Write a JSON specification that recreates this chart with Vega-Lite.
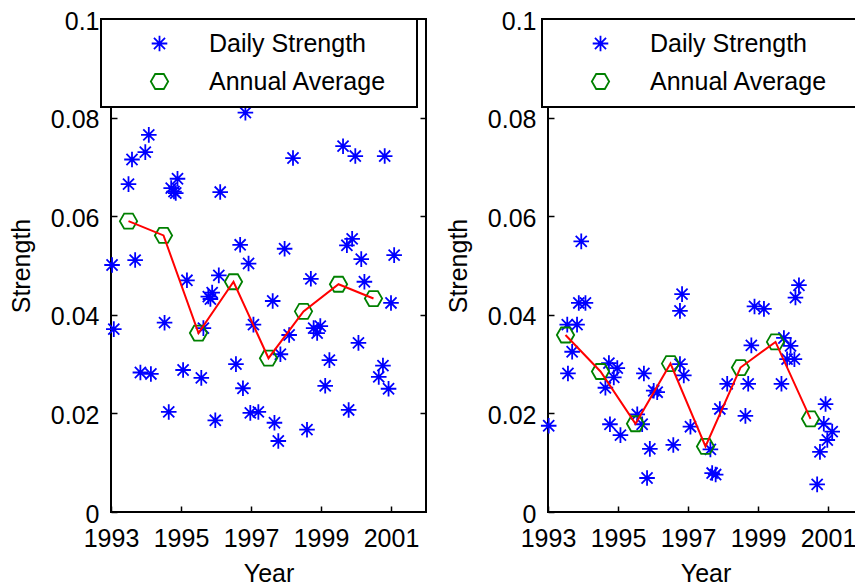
{
  "$schema": "https://vega.github.io/schema/vega-lite/v6.json",
  "background": "white",
  "padding": {"left": 8, "top": 8, "right": 0, "bottom": 0},
  "config": {
    "font": "Liberation Sans",
    "view": {"stroke": "black", "strokeWidth": 2},
    "axis": {"domain": false, "grid": false, "labelFont": "Liberation Sans", "labelFontSize": 25, "labelColor": "black", "titleFont": "Liberation Sans", "titleFontSize": 25, "titleFontWeight": "normal", "titleColor": "black", "tickColor": "black", "tickSize": -6, "tickWidth": 1.5},
    "legend": {"orient": "none", "legendY": 0, "padding": 12, "strokeColor": "black", "fillColor": "white", "strokeWidth": 2, "symbolOffset": 34, "labelOffset": 37, "rowPadding": 12, "labelFont": "Liberation Sans", "labelFontSize": 25, "labelColor": "black", "labelLimit": 400, "symbolSize": 300, "symbolStrokeWidth": 1.8, "symbolFillColor": "transparent"},
    "concat": {"spacing": 17}
  },
  "datasets": {
    "d": [
      {"p":"L","s":"Daily Strength","year":1993.03,"v":0.0501},
      {"p":"L","s":"Daily Strength","year":1993.08,"v":0.0371},
      {"p":"L","s":"Daily Strength","year":1993.50,"v":0.0665},
      {"p":"L","s":"Daily Strength","year":1993.60,"v":0.0715},
      {"p":"L","s":"Daily Strength","year":1993.69,"v":0.0511},
      {"p":"L","s":"Daily Strength","year":1993.84,"v":0.0283},
      {"p":"L","s":"Daily Strength","year":1993.98,"v":0.0730},
      {"p":"L","s":"Daily Strength","year":1994.08,"v":0.0765},
      {"p":"L","s":"Daily Strength","year":1994.14,"v":0.0280},
      {"p":"L","s":"Daily Strength","year":1994.53,"v":0.0384},
      {"p":"L","s":"Daily Strength","year":1994.65,"v":0.0203},
      {"p":"L","s":"Daily Strength","year":1994.72,"v":0.0657},
      {"p":"L","s":"Daily Strength","year":1994.80,"v":0.0650},
      {"p":"L","s":"Daily Strength","year":1994.85,"v":0.0647},
      {"p":"L","s":"Daily Strength","year":1994.90,"v":0.0676},
      {"p":"L","s":"Daily Strength","year":1995.06,"v":0.0288},
      {"p":"L","s":"Daily Strength","year":1995.17,"v":0.0470},
      {"p":"L","s":"Daily Strength","year":1995.58,"v":0.0272},
      {"p":"L","s":"Daily Strength","year":1995.64,"v":0.0373},
      {"p":"L","s":"Daily Strength","year":1995.78,"v":0.0437},
      {"p":"L","s":"Daily Strength","year":1995.84,"v":0.0432},
      {"p":"L","s":"Daily Strength","year":1995.89,"v":0.0445},
      {"p":"L","s":"Daily Strength","year":1995.98,"v":0.0186},
      {"p":"L","s":"Daily Strength","year":1996.08,"v":0.0480},
      {"p":"L","s":"Daily Strength","year":1996.12,"v":0.0649},
      {"p":"L","s":"Daily Strength","year":1996.57,"v":0.0300},
      {"p":"L","s":"Daily Strength","year":1996.69,"v":0.0542},
      {"p":"L","s":"Daily Strength","year":1996.77,"v":0.0251},
      {"p":"L","s":"Daily Strength","year":1996.84,"v":0.0810},
      {"p":"L","s":"Daily Strength","year":1996.93,"v":0.0504},
      {"p":"L","s":"Daily Strength","year":1996.98,"v":0.0201},
      {"p":"L","s":"Daily Strength","year":1997.07,"v":0.0380},
      {"p":"L","s":"Daily Strength","year":1997.21,"v":0.0203},
      {"p":"L","s":"Daily Strength","year":1997.62,"v":0.0428},
      {"p":"L","s":"Daily Strength","year":1997.67,"v":0.0181},
      {"p":"L","s":"Daily Strength","year":1997.78,"v":0.0144},
      {"p":"L","s":"Daily Strength","year":1997.84,"v":0.0320},
      {"p":"L","s":"Daily Strength","year":1997.96,"v":0.0534},
      {"p":"L","s":"Daily Strength","year":1998.09,"v":0.0359},
      {"p":"L","s":"Daily Strength","year":1998.20,"v":0.0718},
      {"p":"L","s":"Daily Strength","year":1998.60,"v":0.0167},
      {"p":"L","s":"Daily Strength","year":1998.71,"v":0.0473},
      {"p":"L","s":"Daily Strength","year":1998.79,"v":0.0373},
      {"p":"L","s":"Daily Strength","year":1998.89,"v":0.0363},
      {"p":"L","s":"Daily Strength","year":1998.98,"v":0.0377},
      {"p":"L","s":"Daily Strength","year":1999.12,"v":0.0256},
      {"p":"L","s":"Daily Strength","year":1999.24,"v":0.0308},
      {"p":"L","s":"Daily Strength","year":1999.63,"v":0.0742},
      {"p":"L","s":"Daily Strength","year":1999.74,"v":0.0541},
      {"p":"L","s":"Daily Strength","year":1999.79,"v":0.0207},
      {"p":"L","s":"Daily Strength","year":1999.89,"v":0.0554},
      {"p":"L","s":"Daily Strength","year":1999.98,"v":0.0722},
      {"p":"L","s":"Daily Strength","year":2000.07,"v":0.0343},
      {"p":"L","s":"Daily Strength","year":2000.15,"v":0.0513},
      {"p":"L","s":"Daily Strength","year":2000.24,"v":0.0467},
      {"p":"L","s":"Daily Strength","year":2000.65,"v":0.0274},
      {"p":"L","s":"Daily Strength","year":2000.77,"v":0.0297},
      {"p":"L","s":"Daily Strength","year":2000.82,"v":0.0722},
      {"p":"L","s":"Daily Strength","year":2000.93,"v":0.0250},
      {"p":"L","s":"Daily Strength","year":2001.00,"v":0.0424},
      {"p":"L","s":"Daily Strength","year":2001.09,"v":0.0521},
      {"p":"L","s":"Annual Average","year":1993.5,"v":0.0590},
      {"p":"L","s":"Annual Average","year":1994.5,"v":0.0561},
      {"p":"L","s":"Annual Average","year":1995.5,"v":0.0363},
      {"p":"L","s":"Annual Average","year":1996.5,"v":0.0467},
      {"p":"L","s":"Annual Average","year":1997.5,"v":0.0312},
      {"p":"L","s":"Annual Average","year":1998.5,"v":0.0407},
      {"p":"L","s":"Annual Average","year":1999.5,"v":0.0462},
      {"p":"L","s":"Annual Average","year":2000.5,"v":0.0433},
      {"p":"R","s":"Daily Strength","year":1993.02,"v":0.0175},
      {"p":"R","s":"Daily Strength","year":1993.55,"v":0.0380},
      {"p":"R","s":"Daily Strength","year":1993.57,"v":0.0281},
      {"p":"R","s":"Daily Strength","year":1993.69,"v":0.0325},
      {"p":"R","s":"Daily Strength","year":1993.83,"v":0.0380},
      {"p":"R","s":"Daily Strength","year":1993.88,"v":0.0424},
      {"p":"R","s":"Daily Strength","year":1993.95,"v":0.0549},
      {"p":"R","s":"Daily Strength","year":1994.07,"v":0.0424},
      {"p":"R","s":"Daily Strength","year":1994.64,"v":0.0252},
      {"p":"R","s":"Daily Strength","year":1994.74,"v":0.0302},
      {"p":"R","s":"Daily Strength","year":1994.77,"v":0.0178},
      {"p":"R","s":"Daily Strength","year":1994.88,"v":0.0273},
      {"p":"R","s":"Daily Strength","year":1994.98,"v":0.0292},
      {"p":"R","s":"Daily Strength","year":1995.07,"v":0.0156},
      {"p":"R","s":"Daily Strength","year":1995.55,"v":0.0198},
      {"p":"R","s":"Daily Strength","year":1995.69,"v":0.0178},
      {"p":"R","s":"Daily Strength","year":1995.74,"v":0.0281},
      {"p":"R","s":"Daily Strength","year":1995.83,"v":0.0069},
      {"p":"R","s":"Daily Strength","year":1995.91,"v":0.0128},
      {"p":"R","s":"Daily Strength","year":1996.02,"v":0.0246},
      {"p":"R","s":"Daily Strength","year":1996.12,"v":0.0243},
      {"p":"R","s":"Daily Strength","year":1996.58,"v":0.0136},
      {"p":"R","s":"Daily Strength","year":1996.77,"v":0.0300},
      {"p":"R","s":"Daily Strength","year":1996.77,"v":0.0408},
      {"p":"R","s":"Daily Strength","year":1996.83,"v":0.0442},
      {"p":"R","s":"Daily Strength","year":1996.88,"v":0.0277},
      {"p":"R","s":"Daily Strength","year":1997.07,"v":0.0173},
      {"p":"R","s":"Daily Strength","year":1997.64,"v":0.0127},
      {"p":"R","s":"Daily Strength","year":1997.69,"v":0.0079},
      {"p":"R","s":"Daily Strength","year":1997.79,"v":0.0076},
      {"p":"R","s":"Daily Strength","year":1997.91,"v":0.0209},
      {"p":"R","s":"Daily Strength","year":1998.12,"v":0.0260},
      {"p":"R","s":"Daily Strength","year":1998.64,"v":0.0195},
      {"p":"R","s":"Daily Strength","year":1998.72,"v":0.0260},
      {"p":"R","s":"Daily Strength","year":1998.81,"v":0.0338},
      {"p":"R","s":"Daily Strength","year":1998.90,"v":0.0417},
      {"p":"R","s":"Daily Strength","year":1999.17,"v":0.0412},
      {"p":"R","s":"Daily Strength","year":1999.67,"v":0.0260},
      {"p":"R","s":"Daily Strength","year":1999.74,"v":0.0353},
      {"p":"R","s":"Daily Strength","year":1999.83,"v":0.0310},
      {"p":"R","s":"Daily Strength","year":1999.93,"v":0.0337},
      {"p":"R","s":"Daily Strength","year":2000.04,"v":0.0310},
      {"p":"R","s":"Daily Strength","year":2000.07,"v":0.0435},
      {"p":"R","s":"Daily Strength","year":2000.17,"v":0.0460},
      {"p":"R","s":"Daily Strength","year":2000.69,"v":0.0056},
      {"p":"R","s":"Daily Strength","year":2000.77,"v":0.0122},
      {"p":"R","s":"Daily Strength","year":2000.88,"v":0.0179},
      {"p":"R","s":"Daily Strength","year":2000.93,"v":0.0219},
      {"p":"R","s":"Daily Strength","year":2000.98,"v":0.0146},
      {"p":"R","s":"Daily Strength","year":2001.12,"v":0.0163},
      {"p":"R","s":"Annual Average","year":1993.5,"v":0.0359},
      {"p":"R","s":"Annual Average","year":1994.5,"v":0.0285},
      {"p":"R","s":"Annual Average","year":1995.5,"v":0.0179},
      {"p":"R","s":"Annual Average","year":1996.5,"v":0.0301},
      {"p":"R","s":"Annual Average","year":1997.5,"v":0.0133},
      {"p":"R","s":"Annual Average","year":1998.5,"v":0.0293},
      {"p":"R","s":"Annual Average","year":1999.5,"v":0.0345},
      {"p":"R","s":"Annual Average","year":2000.5,"v":0.0189}
    ]
  },
  "resolve": {"scale": {"color": "independent", "shape": "independent"}},
  "hconcat": [
    {
      "width": 315, "height": 493,
      "data": {"name": "d"},
      "transform": [{"filter": "datum.p === 'L'"}],
      "layer": [
        {
          "mark": {"type": "point", "filled": false, "size": 300, "strokeWidth": 1.8, "opacity": 1},
          "encoding": {
            "x": {"field": "year", "type": "quantitative", "scale": {"domain": [1993, 2002], "nice": false, "zero": false}, "axis": {"values": [1993, 1995, 1997, 1999, 2001], "format": "d", "title": "Year", "labelPadding": 20, "titlePadding": 10, "labelFlush": false}},
            "y": {"field": "v", "type": "quantitative", "scale": {"domain": [0, 0.1], "nice": false}, "axis": {"values": [0, 0.02, 0.04, 0.06, 0.08, 0.1], "format": "~g", "title": "Strength", "labelPadding": 18, "titlePadding": 16, "labelOffset": 2, "labelFlush": false}},
            "color": {"field": "s", "type": "nominal", "scale": {"domain": ["Daily Strength", "Annual Average"], "range": ["#0000ff", "#008000"]}, "legend": {"title": null, "legendX": -10, "labelExpr": "datum.label + '\u2800'"}},
            "shape": {"field": "s", "type": "nominal", "scale": {"domain": ["Daily Strength", "Annual Average"], "range": ["M-0.9,0L0.9,0M0,-0.9L0,0.9M-0.64,-0.64L0.64,0.64M-0.64,0.64L0.64,-0.64", "M-1,0L-0.5,-0.866L0.5,-0.866L1,0L0.5,0.866L-0.5,0.866Z"]}, "legend": {"title": null, "legendX": -10, "labelExpr": "datum.label + '\u2800'"}}
          }
        },
        {
          "transform": [{"filter": "datum.s === 'Annual Average'"}],
          "mark": {"type": "line", "color": "#ff0000", "strokeWidth": 2},
          "encoding": {
            "x": {"field": "year", "type": "quantitative"},
            "y": {"field": "v", "type": "quantitative", "axis": {"orient": "right", "labels": false, "title": null, "values": [0.02, 0.04, 0.06, 0.08]}}
          }
        }
      ],
      "resolve": {"axis": {"y": "independent"}}
    },
    {
      "width": 315, "height": 493,
      "data": {"name": "d"},
      "transform": [{"filter": "datum.p === 'R'"}],
      "layer": [
        {
          "mark": {"type": "point", "filled": false, "size": 300, "strokeWidth": 1.8, "opacity": 1},
          "encoding": {
            "x": {"field": "year", "type": "quantitative", "scale": {"domain": [1993, 2002], "nice": false, "zero": false}, "axis": {"values": [1993, 1995, 1997, 1999, 2001], "format": "d", "title": "Year", "labelPadding": 20, "titlePadding": 10, "labelFlush": false}},
            "y": {"field": "v", "type": "quantitative", "scale": {"domain": [0, 0.1], "nice": false}, "axis": {"values": [0, 0.02, 0.04, 0.06, 0.08, 0.1], "format": "~g", "title": "Strength", "labelPadding": 18, "titlePadding": 16, "labelOffset": 2, "labelFlush": false}},
            "color": {"field": "s", "type": "nominal", "scale": {"domain": ["Daily Strength", "Annual Average"], "range": ["#0000ff", "#008000"]}, "legend": {"title": null, "legendX": -6, "labelExpr": "datum.label + '\u2800'"}},
            "shape": {"field": "s", "type": "nominal", "scale": {"domain": ["Daily Strength", "Annual Average"], "range": ["M-0.9,0L0.9,0M0,-0.9L0,0.9M-0.64,-0.64L0.64,0.64M-0.64,0.64L0.64,-0.64", "M-1,0L-0.5,-0.866L0.5,-0.866L1,0L0.5,0.866L-0.5,0.866Z"]}, "legend": {"title": null, "legendX": -6, "labelExpr": "datum.label + '\u2800'"}}
          }
        },
        {
          "transform": [{"filter": "datum.s === 'Annual Average'"}],
          "mark": {"type": "line", "color": "#ff0000", "strokeWidth": 2},
          "encoding": {
            "x": {"field": "year", "type": "quantitative"},
            "y": {"field": "v", "type": "quantitative", "axis": {"orient": "right", "labels": false, "title": null, "values": [0.02, 0.04, 0.06, 0.08]}}
          }
        }
      ],
      "resolve": {"axis": {"y": "independent"}}
    }
  ]
}
